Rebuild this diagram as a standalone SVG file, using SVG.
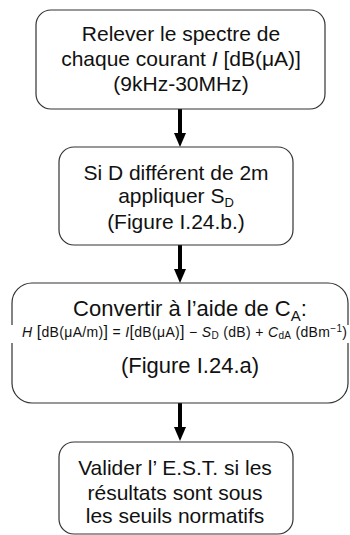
<svg xmlns="http://www.w3.org/2000/svg" width="350" height="535" viewBox="0 0 350 535">
<style>
.box{fill:#fff;stroke:#333;stroke-width:1.2}
.t{font-family:"Liberation Sans",Arial,sans-serif;font-size:21px;fill:#111;text-anchor:middle}
.t3{font-size:22px}
.f{font-family:"Liberation Sans",Arial,sans-serif;font-size:14px;fill:#111}
.conn line{stroke:#000;stroke-width:4}
.conn path{fill:#000}
</style>
<rect width="350" height="535" fill="#fff"/>
<g class="conn">
<line x1="180" y1="109" x2="180" y2="134"/>
<path d="M174,133 L186,133 L180,147 Z"/>
<line x1="180" y1="245" x2="180" y2="270"/>
<path d="M174,269 L186,269 L180,283 Z"/>
<line x1="180" y1="403" x2="180" y2="428"/>
<path d="M174,427 L186,427 L180,441 Z"/>
</g>
<g id="n1">
<rect class="box" x="36" y="10" width="289" height="99" rx="15"/>
<text class="t" x="181" y="41">Relever le spectre de</text>
<text class="t" x="181" y="66">chaque courant <tspan font-style="italic">I</tspan> [dB(μA)]</text>
<text class="t" x="181" y="91">(9kHz-30MHz)</text>
</g>
<g id="n2">
<rect class="box" x="59" y="147" width="234" height="98" rx="15"/>
<text class="t" x="176" y="180">Si D différent de 2m</text>
<text class="t" x="176" y="203">appliquer S<tspan font-size="13" dy="4">D</tspan></text>
<text class="t" x="176" y="229">(Figure I.24.b.)</text>
</g>
<g id="n3">
<rect class="box" x="12" y="283" width="336" height="120" rx="20"/>
<rect x="10" y="325" width="340" height="18" fill="#fff"/>
<text class="t t3" x="190" y="316">Convertir à l’aide de C<tspan font-size="15" dy="5">A</tspan><tspan dy="-5">:</tspan></text>
<text class="f" x="22" y="337" textLength="325" lengthAdjust="spacing"><tspan font-style="italic">H</tspan>  <tspan font-size="16">[</tspan>dB(μA/m)<tspan font-size="16">]</tspan> = <tspan font-style="italic">I</tspan><tspan font-size="16">[</tspan>dB(μA)<tspan font-size="16">]</tspan> − <tspan font-style="italic">S</tspan><tspan font-size="10" dy="2">D</tspan><tspan dy="-2"> (dB) + </tspan><tspan font-style="italic">C</tspan><tspan font-size="10" dy="2">dA</tspan><tspan dy="-2"> (dBm</tspan><tspan font-size="10" dy="-5">−1</tspan><tspan dy="5">)</tspan></text>
<text class="t t3" x="190" y="373">(Figure I.24.a)</text>
</g>
<g id="n4">
<rect class="box" x="59" y="442" width="234" height="92" rx="15"/>
<text class="t" x="175" y="475">Valider l’ E.S.T. si les</text>
<text class="t" x="175" y="500">résultats sont sous</text>
<text class="t" x="175" y="523">les seuils normatifs</text>
</g>
</svg>
